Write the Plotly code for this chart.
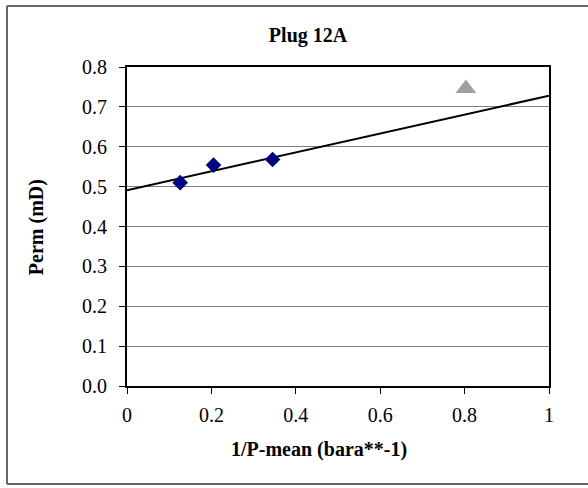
import plotly.graph_objects as go

# Measured permeability against inverse mean pressure
inv_p_mean = [0.126, 0.205, 0.345]
perm_md = [0.510, 0.554, 0.568]

# Point excluded from the fit
excluded_x = [0.803]
excluded_y = [0.746]

# Klinkenberg trend line end points
trend_x = [0.0, 1.0]
trend_y = [0.491, 0.728]

x_ticks = [0, 0.2, 0.4, 0.6, 0.8, 1]
x_tick_text = ["0", "0.2", "0.4", "0.6", "0.8", "1"]
y_ticks = [0.0, 0.1, 0.2, 0.3, 0.4, 0.5, 0.6, 0.7, 0.8]
y_tick_text = ["0.0", "0.1", "0.2", "0.3", "0.4", "0.5", "0.6", "0.7", "0.8"]

FONT = "Liberation Serif, Times New Roman, serif"
TICK_SIZE = 20
TITLE_SIZE = 20

fig = go.Figure()

fig.add_trace(go.Scatter(
    x=trend_x, y=trend_y, mode="lines",
    line=dict(color="black", width=2),
    hoverinfo="skip", showlegend=False,
))
fig.add_trace(go.Scatter(
    x=inv_p_mean, y=perm_md, mode="markers",
    marker=dict(symbol="diamond", size=12, color="#000080"),
    showlegend=False,
))
fig.add_trace(go.Scatter(
    x=excluded_x, y=excluded_y, mode="markers",
    marker=dict(symbol="triangle-up", size=18, color="#A0A0A0"),
    showlegend=False,
))

# Chart-area frame: left, top and bottom edges (right edge runs off the page)
frame_left, frame_right = -0.2844, 1.12
frame_bottom, frame_top = -0.307, 1.191
frame_line = dict(color="#666666", width=2)
frame = [
    dict(type="line", xref="paper", yref="paper", x0=frame_left, x1=frame_left,
         y0=frame_bottom, y1=frame_top, line=frame_line, layer="below"),
    dict(type="line", xref="paper", yref="paper", x0=frame_left, x1=frame_right,
         y0=frame_top, y1=frame_top, line=frame_line, layer="below"),
    dict(type="line", xref="paper", yref="paper", x0=frame_left, x1=frame_right,
         y0=frame_bottom, y1=frame_bottom, line=frame_line, layer="below"),
]

fig.update_layout(
    width=588, height=488,
    margin=dict(l=127, r=39, t=67, b=102),
    paper_bgcolor="white", plot_bgcolor="white",
    font=dict(family=FONT, size=TICK_SIZE, color="black"),
    title=dict(
        text="<b>Plug 12A</b>", font=dict(family=FONT, size=TITLE_SIZE, color="black"),
        xref="paper", x=0.429, xanchor="center",
        yref="container", y=1 - 35 / 488, yanchor="middle",
    ),
    xaxis=dict(
        range=[0, 1], tickvals=x_ticks, ticktext=x_tick_text,
        showgrid=False, zeroline=False,
        showline=True, linecolor="black", linewidth=2, mirror=True,
        ticks="outside", ticklen=6, tickcolor="black", tickwidth=1,
        ticklabelstandoff=4,
        tickfont=dict(family=FONT, size=TICK_SIZE),
    ),
    yaxis=dict(
        range=[0, 0.8], tickvals=y_ticks, ticktext=y_tick_text,
        showgrid=True, gridcolor="#808080", gridwidth=1, zeroline=False,
        showline=True, linecolor="black", linewidth=2, mirror=True,
        ticks="outside", ticklen=6, tickcolor="black", tickwidth=1,
        ticklabelstandoff=8,
        tickfont=dict(family=FONT, size=TICK_SIZE),
    ),
    annotations=[
        dict(text="<b>1/P-mean (bara**-1)</b>", xref="paper", yref="paper",
             x=0.455, y=-0.2, xanchor="center", yanchor="middle",
             showarrow=False, font=dict(family=FONT, size=TITLE_SIZE)),
        dict(text="<b>Perm (mD)</b>", xref="paper", yref="paper",
             x=-0.2156, y=0.498, xanchor="center", yanchor="middle",
             textangle=-90, showarrow=False, font=dict(family=FONT, size=TITLE_SIZE)),
    ],
    shapes=frame,
)

fig.write_html("out.html")
